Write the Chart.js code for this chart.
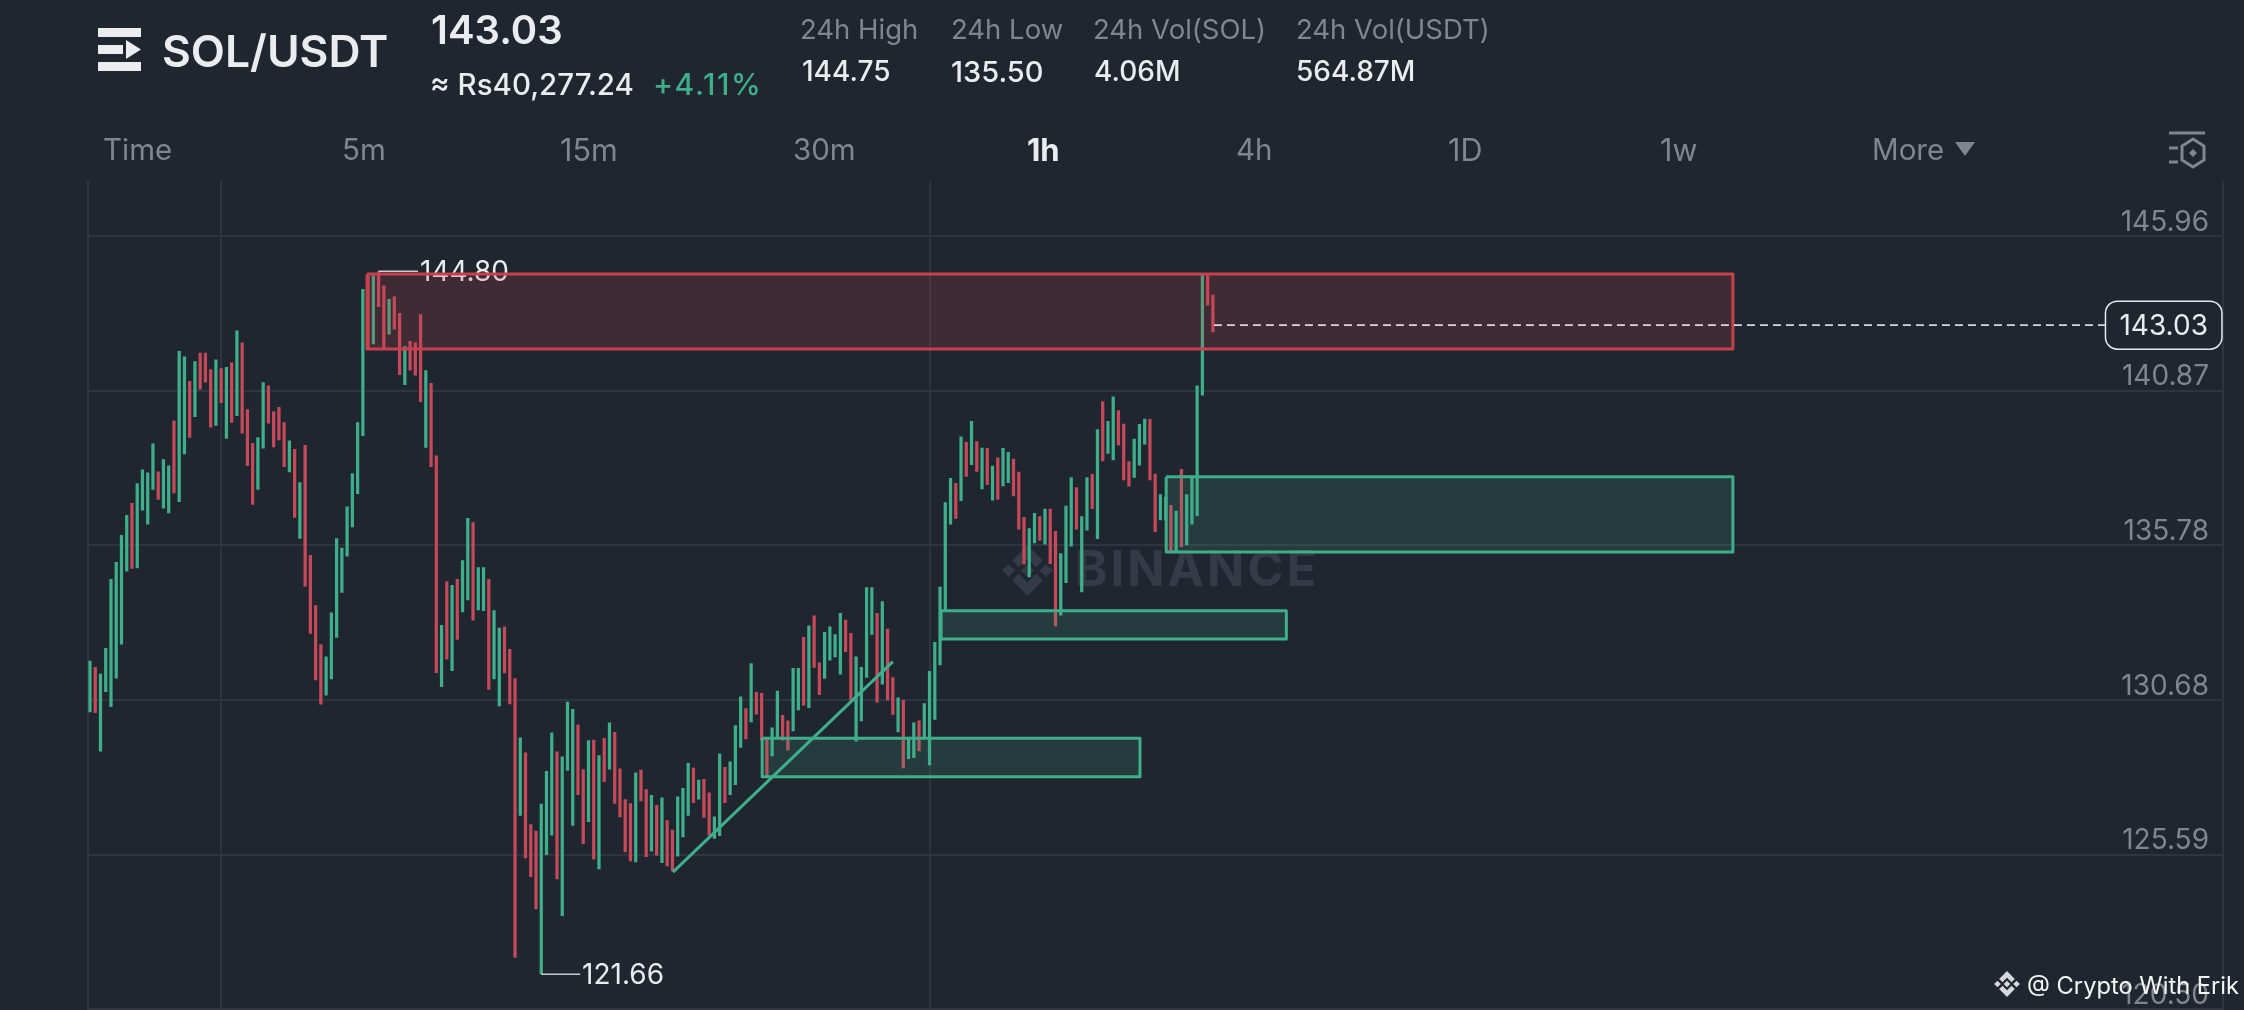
<!DOCTYPE html>
<html>
<head>
<meta charset="utf-8">
<title>SOL/USDT</title>
<script src="https://cdn.jsdelivr.net/npm/chart.js@4"></script>
<style>
html,body{margin:0;padding:0;background:#1f2630;overflow:hidden}
body{width:2244px;height:1010px;position:relative;font-family:Inter,"Noto Sans",sans-serif;color:#eaecef}
canvas{position:absolute;left:0;top:0;z-index:2}
.t{position:absolute;white-space:nowrap;transform:translateY(-50%);z-index:3}
.head{font-size:27.5px;color:#7f8690}
.val{font-size:28px;font-weight:500;color:#eaecef}
.tab{font-size:29.5px;color:#7f8690}
#mark{position:absolute;left:1075px;top:568px;transform:translateY(-50%);font-size:49px;font-weight:700;color:#343b47;letter-spacing:3px;z-index:1}
svg{position:absolute;z-index:3}
</style>
</head>
<body>

<svg style="left:98px;top:28px" width="44" height="44" viewBox="0 0 44 44" fill="#eaecef">
<rect x="0" y="0" width="43" height="9"/>
<rect x="0" y="17" width="25" height="9"/>
<polygon points="28,12 43,21.5 28,31"/>
<rect x="0" y="34" width="43" height="9"/>
</svg>
<div class="t" style="left:162px;top:51px;font-size:44.4px;font-weight:600">SOL/USDT</div>
<div class="t" style="left:431px;top:29px;font-size:40px;font-weight:600">143.03</div>
<div class="t" style="left:430px;top:84px;font-size:29.5px;font-weight:500">≈ Rs40,277.24</div>
<div class="t" style="left:653px;top:84px;font-size:30px;font-weight:500;letter-spacing:1.6px;color:#3fae8a">+4.11%</div>

<div class="t head" style="left:800px;top:29px">24h High</div>
<div class="t val" style="left:802px;top:71px">144.75</div>
<div class="t head" style="left:951px;top:29px">24h Low</div>
<div class="t val" style="left:951px;top:71px;font-size:29px">135.50</div>
<div class="t head" style="left:1093px;top:29px">24h Vol(SOL)</div>
<div class="t val" style="left:1094px;top:71px">4.06M</div>
<div class="t head" style="left:1296px;top:29px">24h Vol(USDT)</div>
<div class="t val" style="left:1296px;top:71px">564.87M</div>

<div class="t tab" style="left:103px;top:149px">Time</div>
<div class="t tab" style="left:342px;top:149px">5m</div>
<div class="t tab" style="left:560px;top:149px;font-size:30.5px">15m</div>
<div class="t tab" style="left:793px;top:149px">30m</div>
<div class="t tab" style="left:1027px;top:149px;color:#eaecef;font-weight:700;font-size:31px">1h</div>
<div class="t tab" style="left:1236px;top:149px">4h</div>
<div class="t tab" style="left:1448px;top:149px;font-size:30.5px">1D</div>
<div class="t tab" style="left:1660px;top:149px;font-size:30.5px">1w</div>
<div class="t tab" style="left:1872px;top:149px">More</div>
<svg style="left:1955px;top:142px" width="20" height="14" viewBox="0 0 20 14" fill="#7f8690"><polygon points="0,0 20,0 10,14"/></svg>
<svg style="left:2168px;top:130px" width="38" height="40" viewBox="0 0 38 40" fill="none" stroke="#7f8690" stroke-width="3">
<line x1="1" y1="3" x2="37" y2="3"/>
<line x1="1" y1="18" x2="10" y2="18"/>
<line x1="1" y1="32" x2="10" y2="32"/>
<polygon points="25,9 36,16 36,30 25,37 14,30 14,16"/>
<polygon points="25,19 29,23 25,27 21,23" fill="#7f8690" stroke="none"/>
</svg>

<svg style="left:998px;top:543px;z-index:1" width="59" height="55" viewBox="0 0 100 100" fill="#343b47">
<polygon points="50,38 62,50 50,62 38,50"/>
<polygon points="4,50 16,38 28,50 16,62"/>
<polygon points="72,50 84,38 96,50 84,62"/>
<polygon points="50,4 78,32 66,44 50,28 34,44 22,32"/>
<polygon points="50,96 78,68 66,56 50,72 34,56 22,68"/>
</svg>
<div id="mark">BINANCE</div>

<svg style="left:1993px;top:970px" width="28" height="28" viewBox="0 0 100 100" fill="#d5d7da">
<polygon points="50,38 62,50 50,62 38,50"/>
<polygon points="4,50 16,38 28,50 16,62"/>
<polygon points="72,50 84,38 96,50 84,62"/>
<polygon points="50,4 78,32 66,44 50,28 34,44 22,32"/>
<polygon points="50,96 78,68 66,56 50,72 34,56 22,68"/>
</svg>
<div class="t" style="left:2027px;top:985px;font-size:23.7px;color:#f5f5f5">@ Crypto With Erik</div>

<canvas id="chart" width="2244" height="1039"></canvas>

<script>
/* candles, oldest first */
const highs = [
131.97,131.76,131.54,132.39,134.66,135.22,136.11,136.77,137.16,137.81,
138.27,138.17,139.12,138.20,138.60,138.40,139.88,142.17,141.99,141.18,
141.83,142.11,142.11,141.57,141.89,141.60,141.64,141.79,142.84,142.45,
140.25,139.14,139.33,141.14,141.03,140.18,140.32,139.82,139.22,138.94,
137.85,139.07,135.45,133.80,132.51,132.11,133.56,136.00,135.69,137.05,
138.14,139.82,144.21,144.68,144.65,144.79,144.32,143.88,143.96,143.42,
142.32,142.50,142.45,143.38,141.53,141.11,138.73,133.15,134.58,134.46,
134.66,135.28,136.67,136.53,135.05,135.05,134.66,133.63,133.06,133.10,
132.36,131.39,129.44,128.95,126.59,126.37,127.26,128.34,129.61,128.98,
128.82,130.62,130.38,129.87,128.40,129.35,129.37,128.86,129.43,129.94,
129.62,128.42,127.41,127.28,128.29,128.38,127.74,127.55,127.22,127.47,
126.72,126.41,127.50,127.78,128.60,128.45,128.05,128.08,127.63,126.84,
128.92,128.47,128.65,129.85,130.79,130.41,131.89,130.94,130.91,129.37,
129.77,130.98,130.18,130.00,131.73,131.73,132.75,133.13,133.46,131.91,
132.92,133.10,132.84,133.54,133.32,132.88,132.11,131.76,134.39,134.39,
133.54,133.93,133.02,131.43,130.76,130.68,129.47,129.94,130.00,130.57,
131.63,132.59,134.41,137.19,137.99,137.82,139.35,139.17,139.86,139.20,
138.98,138.97,138.39,138.66,138.97,138.84,138.62,138.19,136.70,136.33,
136.83,136.73,136.97,136.97,136.24,135.51,137.07,138.01,137.68,136.73,
138.01,138.12,139.59,140.51,139.86,140.67,140.22,139.77,138.54,139.28,
139.76,139.94,139.93,138.13,137.45,137.36,137.10,136.91,138.28,137.45,
138.06,141.03,144.68,144.73,144.02
]
const lows = [
130.30,130.27,129.00,130.96,130.47,131.41,132.53,134.93,135.02,135.04,
136.94,136.48,137.62,137.29,137.00,136.85,137.51,137.22,138.79,139.33,
140.02,140.92,141.15,139.67,139.73,140.48,139.30,139.83,140.05,139.47,
138.40,137.13,137.62,138.98,139.80,139.02,139.25,138.37,138.20,136.70,
136.01,134.43,132.88,131.35,130.55,130.85,131.38,132.75,134.23,135.42,
136.39,137.48,139.39,142.27,142.41,143.64,142.27,142.73,142.90,141.40,
141.07,141.55,141.38,140.51,139.00,138.37,131.59,131.13,132.03,131.65,
132.68,133.59,133.98,133.32,133.65,133.63,131.04,131.38,130.49,131.58,
130.56,122.21,126.89,125.49,124.87,123.81,121.68,125.60,126.24,124.80,
123.59,128.37,126.56,127.57,125.96,126.68,125.45,125.13,128.00,128.41,
127.28,126.84,125.69,125.39,125.36,127.37,125.53,125.71,125.58,125.33,
125.23,125.06,125.55,126.18,126.89,127.31,127.42,126.82,126.24,126.13,
126.22,127.31,127.57,127.90,129.13,129.41,129.97,130.22,129.37,128.20,
128.85,129.46,129.37,129.04,129.67,130.36,130.52,130.44,131.76,130.86,
131.40,132.00,132.11,131.54,132.28,130.68,129.33,130.00,131.43,132.85,
130.62,131.21,130.68,130.21,129.64,128.45,128.76,128.79,129.01,129.45,
128.55,130.05,131.84,133.62,136.48,136.67,137.25,138.05,138.44,138.21,
137.64,137.78,137.27,137.29,137.74,137.84,137.41,136.31,135.16,134.74,
135.86,135.95,135.82,135.18,133.13,133.48,134.55,135.75,136.31,134.25,
136.28,136.99,136.00,138.56,138.81,138.59,139.08,137.93,137.73,138.02,
138.42,139.11,137.93,136.23,136.62,136.61,135.57,135.57,135.74,135.79,
136.48,136.76,140.72,143.69,142.81
]
/* 1 = green candle, 0 = red candle */
const up = [
1,0,1,1,1,1,1,1,0,1,
1,1,1,0,1,1,0,1,1,0,
1,0,0,0,1,0,1,0,1,0,
0,0,1,1,0,0,0,0,1,0,
1,0,0,0,0,1,1,1,1,1,
1,1,1,0,1,0,0,1,0,0,
1,0,0,0,1,0,0,1,0,1,
0,1,1,0,1,1,0,1,1,0,
0,0,1,0,0,0,1,1,1,0,
1,1,1,0,0,1,0,1,0,1,
0,0,0,0,1,0,0,1,0,1,
0,0,1,1,1,0,1,0,0,1,
1,0,1,1,1,0,1,0,0,0,
1,1,0,0,1,1,0,1,0,0,
1,1,1,1,0,0,1,1,1,1,
0,1,0,0,1,0,1,1,0,1,
1,1,1,1,1,0,1,0,1,0,
1,0,1,0,1,1,0,0,0,1,
1,0,1,0,0,1,1,1,0,1,
1,0,1,0,1,1,0,0,0,1,
1,1,0,0,1,1,0,1,0,1,
1,1,1,0,0
]

const priceTicks = [145.96,140.87,135.78,130.68,125.59,120.50]
const timeGrid = [-0.38,25,160,406.5]
const lastPrice = 143.03

/* drawn zones, x in candle numbers */
const zoneStart = [52.8,205.1,162.2,128.1]
const zoneEnd = [313.1,313.1,228,200.1]
const zoneTop = [144.71,138.04,133.63,129.43]
const zoneBottom = [142.24,135.56,132.70,128.16]
const zoneIsRed = [1,0,0,0]

const trendX = [111.1,153]
const trendY = [125.02,131.95]

const markedPrice = [144.80,121.66]
const markedFrom = [55,86]
const markedTo = [62.5,93.4]

const green = '#3fae8a'
const red = '#c44a5a'

let candleBars = highs.map((h,i)=>({x:i,y:[lows[i],h]}))

let datasets = [{
type:'bar',
data:candleBars,
backgroundColor:up.map(u=>u?green:red),
barThickness:2.6,
order:3
}]

zoneStart.forEach((z,i)=>{
datasets.push({
type:'line',
data:[
{x:z,y:zoneTop[i]},
{x:zoneEnd[i],y:zoneTop[i]},
{x:zoneEnd[i],y:zoneBottom[i]},
{x:z,y:zoneBottom[i]},
{x:z,y:zoneTop[i]}
],
borderColor:zoneIsRed[i]?'#c8404c':green,
backgroundColor:zoneIsRed[i]?'rgba(200,64,76,0.2)':'rgba(63,174,138,0.17)',
borderWidth:3,
borderJoinStyle:'round',
fill:'shape',
pointRadius:0,
order:1
})
})

datasets.push({
type:'line',
data:trendX.map((x,i)=>({x:x,y:trendY[i]})),
borderColor:green,
borderWidth:3,
pointRadius:0,
order:1
})

markedPrice.forEach((p,i)=>{
datasets.push({
type:'line',
data:[{x:markedFrom[i],y:p},{x:markedTo[i],y:p}],
borderColor:'#c9ccd1',
borderWidth:1.5,
pointRadius:0,
order:2
})
})

/* last price dashes up to the tag */
datasets.push({
type:'line',
data:[{x:214.2,y:lastPrice},{x:384,y:lastPrice}],
borderColor:'#d5d7da',
borderWidth:1.6,
borderDash:[8,5],
pointRadius:0,
order:0
})

const marks = {
id:'marks',
beforeDatasetsDraw(chart){
let c = chart.ctx, x = chart.scales.x, y = chart.scales.y
c.save()
c.font = '28px Inter'
c.fillStyle = '#eaecef'
c.textBaseline = 'middle'
markedPrice.forEach((p,i)=>{
c.fillText(p.toFixed(2),x.getPixelForValue(markedTo[i])+2,y.getPixelForValue(p)+1)
})
c.restore()
},
afterDatasetsDraw(chart){
let c = chart.ctx, x = chart.scales.x, y = chart.scales.y
let l = x.getPixelForValue(384.1), r = x.getPixelForValue(406.3), m = y.getPixelForValue(lastPrice)
c.save()
c.fillStyle = '#1f2630'
c.strokeStyle = '#e6e8ea'
c.lineWidth = 1.5
c.beginPath()
c.roundRect(l,m-24,r-l,48,12)
c.fill()
c.stroke()
c.font = '28px Inter'
c.fillStyle = '#eaecef'
c.textAlign = 'center'
c.textBaseline = 'middle'
c.fillText(lastPrice.toFixed(2),(l+r)/2,m+1)
c.restore()
}
}

new Chart(document.getElementById('chart'),{
type:'bar',
data:{datasets:datasets},
plugins:[marks],
options:{
responsive:false,
animation:false,
devicePixelRatio:1,
layout:{autoPadding:false,padding:{left:88,right:21,top:181,bottom:0}},
plugins:{legend:{display:false},tooltip:{enabled:false}},
scales:{
x:{
type:'linear',
offset:false,
min:-0.38,
max:406.5,
afterBuildTicks(ax){ax.ticks = timeGrid.map(v=>({value:v}))},
afterFit(ax){ax.height = 0},
ticks:{display:false},
border:{display:false},
grid:{offset:false,color:'#2e3540',lineWidth:2,drawTicks:false}
},
y:{
position:'right',
min:119.62,
max:147.775,
afterBuildTicks(ax){ax.ticks = priceTicks.map(v=>({value:v}))},
afterFit(ax){ax.width = 0},
ticks:{
mirror:true,
padding:-14,
labelOffset:-14,
color:'#7f8690',
font:{family:'Inter',size:28},
callback:v=>v.toFixed(2)
},
border:{display:false},
grid:{color:'#2e3540',lineWidth:2,drawTicks:false}
}
}
}
})
</script>
</body>
</html>
